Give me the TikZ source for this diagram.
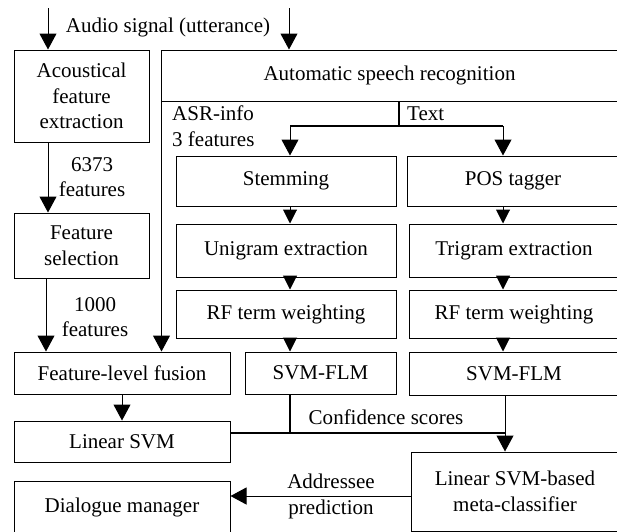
\documentclass[tikz,border=0pt]{standalone}
\usepackage{fontspec}
\setmainfont{Liberation Serif}
\usepackage{tikz}
\usetikzlibrary{arrows.meta, positioning, calc}

\begin{document}
\begin{tikzpicture}[
  x=1pt, y=-1pt,
  font=\fontsize{21}{25.5}\selectfont,
  blk/.style={draw, line width=1pt, inner sep=0pt, align=center},
  arr/.style={line width=1pt, -{Triangle[length=16pt, width=17pt]}},
  sarr/.style={line width=1pt, -{Triangle[length=14pt, width=14pt]}},
  bus/.style={line width=2.2pt},
  lbl/.style={inner sep=0pt, align=center}
]
  \path[use as bounding box, clip] (0,0) rectangle (617,531);

  % acoustic branch
  \node[blk, minimum width=135pt, minimum height=92pt] (acou) at (81.5,96) {Acoustical\\feature\\extraction};
  \node[blk, minimum width=135pt, minimum height=65pt] (fsel) at (81.5,245.5) {Feature\\selection};

  % ASR and text branches
  \node[blk, minimum width=457pt, minimum height=51pt] (asr) at (389.5,75.5) {Automatic speech recognition};
  \node[blk, minimum width=220pt, minimum height=50pt] (stem) at (286,181) {Stemming};
  \node[blk, minimum width=212pt, minimum height=50pt] (pos) at (513,181) {POS tagger};
  \node[blk, minimum width=220pt, minimum height=53pt] (uni) at (286,250.5) {Unigram extraction};
  \node[blk, minimum width=210pt, minimum height=53pt] (tri) at (514,250.5) {Trigram extraction};
  \node[blk, minimum width=220pt, minimum height=48pt] (rfl) at (286,314) {RF term weighting};
  \node[blk, minimum width=210pt, minimum height=48pt] (rfr) at (514,314) {RF term weighting};
  \node[blk, minimum width=151pt, minimum height=42pt] (flml) at (320.5,373) {SVM-FLM};
  \node[blk, minimum width=210pt, minimum height=43pt] (flmr) at (514,373.5) {SVM-FLM};

  % fusion and decision
  \node[blk, minimum width=216pt, minimum height=42pt] (fuse) at (122,373) {Feature-level fusion};
  \node[blk, minimum width=216pt, minimum height=41pt] (lsvm) at (122,441.5) {Linear SVM};
  \node[blk, minimum width=208pt, minimum height=79pt] (meta) at (515,491.5) {Linear SVM-based\\meta-classifier};
  \node[blk, minimum width=216pt, minimum height=52pt] (dlg) at (122,507) {Dialogue manager};

  % helper points
  \coordinate (inA) at (48,8);
  \coordinate (inB) at (289,8);
  \coordinate (colA) at (46,0);
  \coordinate (colL) at (290,0);
  \coordinate (colR) at (503,0);
  \coordinate (split) at (399,126);
  \coordinate (conf) at (505,433);

  % inputs
  \draw[arr] (inA) -- (inA |- acou.north);
  \draw[arr] (inB) -- (inB |- asr.north);
  \node[lbl] (audio) at (168,27) {Audio signal (utterance)};

  % acoustic features
  \draw[arr] (acou.south -| inA) -- (inA |- fsel.north);
  \node[lbl] (n6373) at (92,177) {6373\\features};
  \draw[arr] (fsel.south -| colA) -- (colA |- fuse.north);
  \node[lbl] (n1000) at (95,317) {1000\\features};

  % ASR-info straight to fusion
  \draw[arr] (asr.south west) ++(1,0) coordinate (asrL) -- (asrL |- fuse.north);
  \node[lbl, anchor=west, align=left] (asrinfo) at (172,126) {ASR-info\\3 features};

  % text split
  \draw[bus] (split |- asr.south) -- (split);
  \draw[bus] (split -| colL) -- (split -| colR);
  \draw[arr] (split -| colL) -- (colL |- stem.north);
  \draw[arr] (split -| colR) -- (colR |- pos.north);
  \node[lbl, anchor=west] (txt) at (407,114) {Text};

  % text pipelines
  \draw[sarr] (stem.south -| colL) -- (colL |- uni.north);
  \draw[sarr] (uni.south -| colL) -- (colL |- rfl.north);
  \draw[sarr] (rfl.south -| colL) -- (colL |- flml.north);
  \draw[sarr] (pos.south -| colR) -- (colR |- tri.north);
  \draw[sarr] (tri.south -| colR) -- (colR |- rfr.north);
  \draw[sarr] (rfr.south -| colR) -- (colR |- flmr.north);

  % fusion to classifier
  \draw[arr] (fuse.south) -- (lsvm.north);

  % confidence scores
  \draw[bus] (conf -| lsvm.east) -- (conf);
  \draw[bus] (flml.south -| colL) -- (colL |- conf);
  \draw[arr] (flmr.south -| conf) -- (conf |- meta.north);
  \node[lbl] (cscores) at (386,417) {Confidence scores};

  % prediction
  \draw[arr] (meta.west |- 0,496) -- (dlg.east |- 0,496);
  \node[lbl] (pred) at (331,496.5) {Addressee\\prediction};
\end{tikzpicture}
\end{document}
